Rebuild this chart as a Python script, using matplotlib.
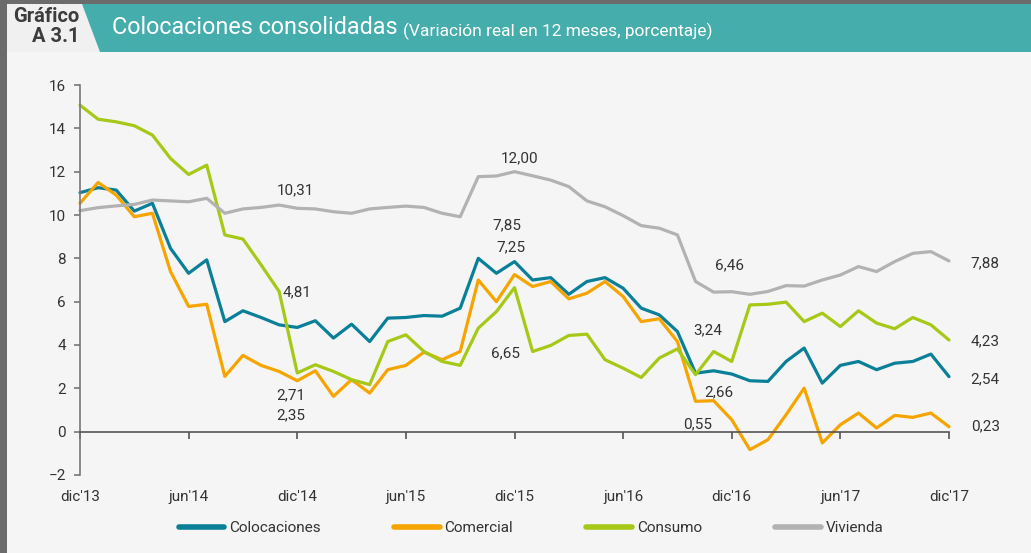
import numpy as np
import matplotlib.pyplot as plt
from matplotlib.patches import Rectangle, Polygon
from matplotlib.lines import Line2D

plt.rcParams['font.family'] = ['Roboto', 'DejaVu Sans']

W, H = 1031, 553


def fx(px):
    return px / W


def fy(py):
    return 1 - py / H


# monthly data, dic'13 .. dic'17
months = np.arange(49)
tick_pos = [0, 6, 12, 18, 24, 30, 36, 42, 48]
tick_labels = ["dic'13", "jun'14", "dic'14", "jun'15", "dic'15",
               "jun'16", "dic'16", "jun'17", "dic'17"]

colocaciones = [11.03, 11.26, 11.15, 10.18, 10.54, 8.46, 7.31, 7.93, 5.08, 5.58,
                5.27, 4.93, 4.81, 5.12, 4.32, 4.96, 4.16, 5.24, 5.27, 5.36,
                5.33, 5.70, 8.00, 7.31, 7.85, 7.00, 7.11, 6.34, 6.93, 7.11,
                6.62, 5.70, 5.39, 4.62, 2.70, 2.81, 2.66, 2.35, 2.32, 3.24,
                3.86, 2.24, 3.06, 3.24, 2.86, 3.16, 3.24, 3.58, 2.54]
comercial = [10.54, 11.50, 10.92, 9.92, 10.08, 7.39, 5.78, 5.88, 2.55, 3.52,
             3.06, 2.78, 2.35, 2.81, 1.63, 2.40, 1.78, 2.86, 3.06, 3.67,
             3.32, 3.70, 7.00, 6.00, 7.25, 6.70, 6.93, 6.13, 6.39, 6.93,
             6.24, 5.08, 5.21, 4.16, 1.40, 1.43, 0.55, -0.83, -0.37, 0.78,
             2.01, -0.52, 0.32, 0.86, 0.17, 0.75, 0.66, 0.86, 0.23]
consumo = [15.07, 14.42, 14.30, 14.12, 13.69, 12.61, 11.87, 12.30, 9.08, 8.89,
           7.70, 6.47, 2.71, 3.09, 2.78, 2.40, 2.17, 4.16, 4.47, 3.70,
           3.24, 3.06, 4.78, 5.54, 6.65, 3.70, 3.98, 4.44, 4.50, 3.32,
           2.93, 2.50, 3.40, 3.82, 2.63, 3.70, 3.24, 5.85, 5.88, 5.98,
           5.08, 5.47, 4.85, 5.58, 5.01, 4.75, 5.27, 4.93, 4.23]
vivienda = [10.20, 10.34, 10.42, 10.49, 10.69, 10.65, 10.61, 10.77, 10.08, 10.28,
            10.35, 10.46, 10.31, 10.28, 10.15, 10.08, 10.28, 10.35, 10.41, 10.35,
            10.08, 9.92, 11.77, 11.80, 12.00, 11.81, 11.61, 11.31, 10.65, 10.38,
            9.97, 9.51, 9.39, 9.08, 6.93, 6.44, 6.46, 6.34, 6.47, 6.74,
            6.72, 7.00, 7.23, 7.62, 7.39, 7.85, 8.23, 8.31, 7.88]

series_names = ['Colocaciones', 'Comercial', 'Consumo', 'Vivienda']
series_colors = ['#0a7f98', '#f6a500', '#a6c816', '#b2b2b2']

# value labels (text, month, value)
labels_txt = ['10,31', '4,81', '2,71', '2,35', '12,00', '7,85', '7,25', '6,65',
              '6,46', '3,24', '2,66', '0,55', '7,88', '4,23', '2,54', '0,23']
labels_m = [11.9, 12.0, 11.66, 11.66, 24.3, 23.6, 23.8, 23.5,
            35.9, 34.7, 35.3, 34.1, 49.2, 49.2, 49.2, 49.2]
labels_v = [11.15, 6.45, 1.66, 0.74, 12.63, 9.54, 8.53, 3.64,
            7.70, 4.70, 1.80, 0.32, 7.79, 4.15, 2.44, 0.23]

fig = plt.figure(figsize=(10.31, 5.53), dpi=100)
fig.patch.set_facecolor('#6b6b6b')

# background panels
fig.add_artist(Rectangle((fx(7), 0), 1 - fx(7), fy(52), transform=fig.transFigure,
                         facecolor='#f5f5f5', edgecolor='none', zorder=-2))
fig.add_artist(Rectangle((fx(7), fy(52)), 1 - fx(7), fy(4) - fy(52),
                         transform=fig.transFigure, facecolor='#45adab',
                         edgecolor='none', zorder=-2))
fig.add_artist(Polygon([(fx(7), fy(4)), (fx(82), fy(4)), (fx(100), fy(52)), (fx(7), fy(52))],
                       closed=True, transform=fig.transFigure, facecolor='#f0f0f0',
                       edgecolor='none', zorder=-1))

fig.text(fx(79), fy(17), 'Gráfico', ha='right', va='center', fontsize=14.5,
         fontweight='bold', color='#3c3c3c')
fig.text(fx(79), fy(36), 'A 3.1', ha='right', va='center', fontsize=14.5,
         fontweight='bold', color='#3c3c3c')
fig.text(fx(112), fy(28), 'Colocaciones consolidadas', ha='left', va='center',
         fontsize=16.8, color='white')
fig.text(fx(403), fy(31), '(Variación real en 12 meses, porcentaje)', ha='left',
         va='center', fontsize=12.5, color='white')

ax = fig.add_axes([fx(80), fy(475), fx(949) - fx(80), fy(85) - fy(475)])
ax.patch.set_alpha(0)

for vals, name, col in zip([colocaciones, comercial, consumo, vivienda],
                           series_names, series_colors):
    ax.plot(months, vals, color=col, lw=2.3, solid_joinstyle='round',
            solid_capstyle='round', clip_on=False, label=name)

ax.set_xlim(0, 48)
ax.set_ylim(-2, 16)
ax.set_yticks(range(-2, 17, 2))
ax.set_xticks(tick_pos)
ax.tick_params(axis='x', direction='out', length=5, width=1.2, color='#555555',
               labelbottom=False)
ax.tick_params(axis='y', direction='out', length=4, width=1.2, color='#777777',
               labelsize=11, labelcolor='#333333', pad=6)
for s in ['top', 'right']:
    ax.spines[s].set_visible(False)
ax.spines['bottom'].set_position(('data', 0))
ax.spines['bottom'].set_color('#555555')
ax.spines['bottom'].set_linewidth(1.2)
ax.spines['left'].set_color('#777777')
ax.spines['left'].set_linewidth(1.2)

secax = ax.secondary_xaxis('bottom')
secax.set_xticks(tick_pos, labels=tick_labels)
secax.spines['bottom'].set_visible(False)
secax.tick_params(length=0, pad=11, labelsize=11, labelcolor='#333333')

for t, m, v in zip(labels_txt, labels_m, labels_v):
    ha = 'left' if m > 48 else 'center'
    ax.text(m, v, t, ha=ha, va='center', fontsize=11, color='#333333', clip_on=False)

handles = [Line2D([], [], color=c, lw=4, solid_capstyle='round') for c in series_colors]
fig.legend(handles, series_names, loc='center', bbox_to_anchor=(fx(531), fy(528)),
           ncol=4, frameon=False, fontsize=11, handlelength=3.0, handletextpad=0.3,
           columnspacing=4.8, labelcolor='#333333')

fig.savefig('out.png', dpi=100, facecolor=fig.get_facecolor())
